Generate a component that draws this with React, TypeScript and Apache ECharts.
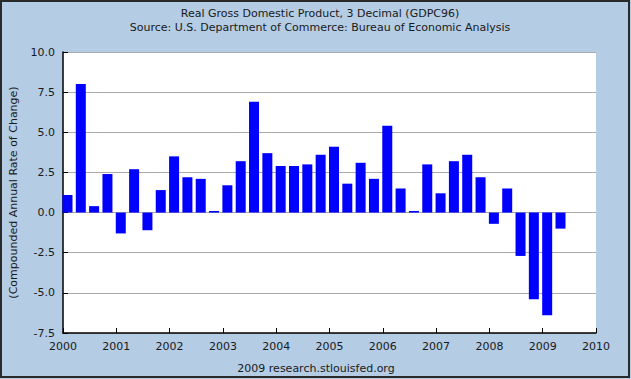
import React, { useEffect, useRef } from "react";
import * as echarts from "echarts";

const titleLine1 = "Real Gross Domestic Product, 3 Decimal (GDPC96)";
const titleLine2 = "Source: U.S. Department of Commerce: Bureau of Economic Analysis";
const footer = "2009 research.stlouisfed.org";
const yAxisName = "(Compounded Annual Rate of Change)";

const startYear = 2000;
// quarterly values, 2000Q1 .. 2009Q2
const gdpGrowth = [
  1.1, 8.0, 0.4, 2.4,
  -1.3, 2.7, -1.1, 1.4,
  3.5, 2.2, 2.1, 0.1,
  1.7, 3.2, 6.9, 3.7,
  2.9, 2.9, 3.0, 3.6,
  4.1, 1.8, 3.1, 2.1,
  5.4, 1.5, 0.1, 3.0,
  1.2, 3.2, 3.6, 2.2,
  -0.7, 1.5, -2.7, -5.4,
  -6.4, -1.0,
];

const xMin = 2000;
const xMax = 2010;
const yMin = -7.5;
const yMax = 10;
const yStep = 2.5;

export default function App() {
  const ref = useRef<HTMLDivElement>(null);
  useEffect(() => {
    document.body.style.margin = "0";
    const chart = echarts.init(ref.current!, null, { renderer: "svg" });
    const font = "DejaVu Sans";
    const textColor = "#1a1a1a";
    const barOffset = 0.084;
    const data = gdpGrowth.map((v, i) => [startYear + i * 0.25 + barOffset, v]);
    chart.setOption({
      animation: false,
      backgroundColor: "#B4CCE4",
      textStyle: { fontFamily: font },
      grid: { left: 61, right: 35, top: 52, bottom: 46, containLabel: false, show: true, backgroundColor: "#ffffff", borderWidth: 0 },
      graphic: [
        {
          type: "rect",
          shape: { x: 1, y: 1, width: 628, height: 376 },
          style: { fill: "none", stroke: "#2a2a2a", lineWidth: 2 },
          silent: true,
          z: 100,
        },
        {
          type: "text",
          x: 320,
          y: 13,
          style: { text: titleLine1, font: `11px ${font}`, fill: textColor, align: "center", verticalAlign: "middle" },
        },
        {
          type: "text",
          x: 320,
          y: 27,
          style: { text: titleLine2, font: `11px ${font}`, fill: textColor, align: "center", verticalAlign: "middle" },
        },
        {
          type: "text",
          x: 316,
          y: 368,
          style: { text: footer, font: `11px ${font}`, fill: textColor, align: "center", verticalAlign: "middle" },
        },
      ],
      xAxis: {
        type: "value",
        min: xMin,
        max: xMax,
        interval: 1,
        axisLine: { show: true, onZero: false, lineStyle: { color: "#000", width: 1.5 } },
        axisTick: { show: true, inside: true, length: 5, lineStyle: { color: "#000" } },
        axisLabel: { color: textColor, fontSize: 11, fontFamily: font, margin: 8, formatter: (v: number) => String(v) },
        splitLine: { show: false },
      },
      yAxis: {
        type: "value",
        min: yMin,
        max: yMax,
        interval: yStep,
        name: yAxisName,
        nameLocation: "middle",
        nameRotate: 90,
        nameGap: 44,
        nameTextStyle: { color: textColor, fontSize: 11, fontFamily: font },
        axisLine: { show: true, lineStyle: { color: "#000", width: 1.5 } },
        axisTick: { show: true, inside: true, length: 5, lineStyle: { color: "#000" } },
        axisLabel: { color: textColor, fontSize: 11, fontFamily: font, margin: 8, formatter: (v: number) => v.toFixed(1) },
        splitLine: { show: true, lineStyle: { color: "#aaaaaa", width: 1 } },
      },
      series: [
        {
          type: "bar",
          data,
          barWidth: 10,
          itemStyle: { color: "#0000ff" },
          silent: true,
        },
      ],
    });
    return () => chart.dispose();
  }, []);
  return <div ref={ref} style={{ width: 631, height: 379 }} />;
}
